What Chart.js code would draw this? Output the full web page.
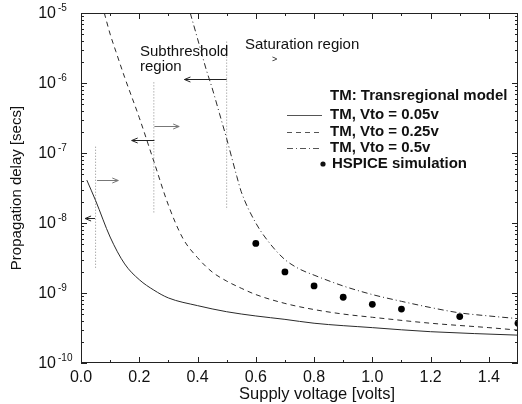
<!DOCTYPE html>
<html>
<head>
<meta charset="utf-8">
<script src="https://cdn.jsdelivr.net/npm/chart.js@4.4.1/dist/chart.umd.min.js"></script>
<style>
    html, body { margin: 0; padding: 0; background: #fff; }
    #wrap { width: 522px; height: 404px; }
</style>
</head>
<body>
<div id="wrap"><canvas id="delayChart" width="522" height="404"></canvas></div>
<script>
// Transregional model, Vto = 0.05v (supply voltage [V] -> delay [s])
const voltsVto005 = [0.02, 0.05, 0.1, 0.15, 0.2, 0.25, 0.3, 0.4, 0.5, 0.6, 0.7, 0.8, 1.0, 1.2, 1.5];
const delayVto005 = [4.1e-8, 2.1e-8, 6.3e-9, 2.6e-9, 1.55e-9, 1.1e-9, 8.5e-10, 6.6e-10, 5.4e-10, 4.7e-10, 4.2e-10, 3.7e-10, 3.2e-10, 2.8e-10, 2.5e-10];

// Transregional model, Vto = 0.25v
const voltsVto025 = [0.08, 0.1, 0.12, 0.15, 0.2, 0.25, 0.3, 0.35, 0.4, 0.45, 0.5, 0.55, 0.6, 0.7, 0.8, 0.9, 1.0, 1.2, 1.4, 1.5];
const delayVto025 = [1e-5, 5.0e-6, 2.8e-6, 1.2e-6, 3.2e-7, 7.6e-8, 1.8e-8, 6.0e-9, 3.2e-9, 2.0e-9, 1.48e-9, 1.17e-9, 9.5e-10, 7.1e-10, 5.8e-10, 5.0e-10, 4.5e-10, 3.7e-10, 3.2e-10, 2.95e-10];

// Transregional model, Vto = 0.5v
const voltsVto05 = [0.375, 0.4, 0.43, 0.45, 0.475, 0.5, 0.535, 0.55, 0.6, 0.65, 0.7, 0.75, 0.8, 0.9, 1.0, 1.1, 1.2, 1.3, 1.4, 1.5];
const delayVto05 = [1e-5, 4.3e-6, 1.55e-6, 8.5e-7, 3.7e-7, 1.6e-7, 4.6e-8, 2.8e-8, 1.0e-8, 5.0e-9, 3.0e-9, 2.2e-9, 1.8e-9, 1.26e-9, 9.5e-10, 7.6e-10, 6.2e-10, 5.2e-10, 4.7e-10, 4.3e-10];

// HSPICE simulation
const voltsHspice = [0.6, 0.7, 0.8, 0.9, 1.0, 1.1, 1.3, 1.5];
const delayHspice = [5.1e-9, 2.0e-9, 1.26e-9, 8.7e-10, 6.9e-10, 5.9e-10, 4.6e-10, 3.7e-10];

// axis ticks
const xTickValues = [0.0, 0.2, 0.4, 0.6, 0.8, 1.0, 1.2, 1.4];
const xTickLabels = ['0.0', '0.2', '0.4', '0.6', '0.8', '1.0', '1.2', '1.4'];
const yDecades = [-10, -9, -8, -7, -6, -5];

// region limits (dotted verticals) and the arrows next to them
const limitVolts = [0.05, 0.25, 0.5];
const limitTop = [1.23e-7, 1.02e-6, 3.9e-6];
const limitBottom = [2.3e-9, 1.38e-8, 1.55e-8];

const arrowFrom = [0.055, 0.048, 0.252, 0.252, 0.5];
const arrowTo = [0.128, 0.014, 0.337, 0.174, 0.355];
const arrowLevel = [4.1e-8, 1.18e-8, 2.45e-7, 1.55e-7, 1.15e-6];

const FONT = '"Liberation Sans", Arial, Helvetica, sans-serif';

function puntos(xs, ys) {
    return xs.map((v, i) => ({ x: v, y: ys[i] }));
};

const curveStyle = {
    type: 'line',
    borderColor: '#2a2a2a',
    borderWidth: 1,
    pointRadius: 0,
    fill: false,
    cubicInterpolationMode: 'monotone'
};

const datasets = [
    { ...curveStyle, label: 'TM, Vto = 0.05v', data: puntos(voltsVto005, delayVto005) },
    { ...curveStyle, label: 'TM, Vto = 0.25v', data: puntos(voltsVto025, delayVto025), borderDash: [5, 4] },
    { ...curveStyle, label: 'TM, Vto = 0.5v', data: puntos(voltsVto05, delayVto05), borderDash: [6, 3, 1, 3] },
    {
        label: 'HSPICE simulation',
        type: 'scatter',
        data: puntos(voltsHspice, delayHspice),
        pointRadius: 3.4,
        pointBackgroundColor: '#000',
        pointBorderWidth: 0,
        showLine: false
    }
];

// dotted region boundaries
limitVolts.forEach((v, i) => {
    datasets.push({
        type: 'line',
        label: 'limit' + i,
        data: [{ x: v, y: limitTop[i] }, { x: v, y: limitBottom[i] }],
        borderColor: '#8a8a8a',
        borderWidth: 1,
        borderDash: [1, 2],
        pointRadius: 0,
        fill: false
    });
});

function flecha(ctx, x1, x2, y, color) {
    const dir = x2 > x1 ? 1 : -1;
    ctx.save();
    ctx.strokeStyle = color;
    ctx.lineWidth = 1;
    ctx.beginPath();
    ctx.moveTo(x1, y);
    ctx.lineTo(x2, y);
    ctx.moveTo(x2 - dir * 6, y - 2.5);
    ctx.lineTo(x2, y);
    ctx.lineTo(x2 - dir * 6, y + 2.5);
    ctx.stroke();
    ctx.restore();
};

const decoPlugin = {
    id: 'deco',
    afterDatasetsDraw(chart) {
        const { ctx, chartArea: a, scales: { x, y } } = chart;
        ctx.save();

        // frame
        ctx.strokeStyle = '#222';
        ctx.lineWidth = 1;
        ctx.strokeRect(a.left + 0.5, a.top + 0.5, a.right - a.left - 1, a.bottom - a.top - 1);

        // inward ticks on x (every 0.1)
        ctx.beginPath();
        for (let k = 1; k <= 14; k++) {
            const px = Math.round(x.getPixelForValue(k / 10)) + 0.5;
            const len = k % 2 === 0 ? 6 : 3;
            ctx.moveTo(px, a.bottom);
            ctx.lineTo(px, a.bottom - len);
            ctx.moveTo(px, a.top);
            ctx.lineTo(px, a.top + len);
        }
        // inward log ticks on y
        for (let e = -10; e <= -6; e++) {
            for (let m = 1; m <= 9; m++) {
                const py = Math.round(y.getPixelForValue(m * Math.pow(10, e))) + 0.5;
                const len = m === 1 ? 6 : 3;
                ctx.moveTo(a.left, py);
                ctx.lineTo(a.left + len, py);
                ctx.moveTo(a.right, py);
                ctx.lineTo(a.right - len, py);
            }
        }
        ctx.stroke();

        // tick labels
        ctx.fillStyle = '#111';
        ctx.font = '16px ' + FONT;
        ctx.textAlign = 'center';
        ctx.textBaseline = 'middle';
        xTickValues.forEach((v, i) => {
            ctx.fillText(xTickLabels[i], x.getPixelForValue(v), 378);
        });
        yDecades.forEach(e => {
            const py = y.getPixelForValue(Math.pow(10, e));
            ctx.font = '16px ' + FONT;
            ctx.textAlign = 'right';
            ctx.fillText('10', 56, py + 1);
            ctx.font = '10px ' + FONT;
            ctx.textAlign = 'left';
            ctx.fillText(String(e), 58, py - 5);
        });

        // axis titles
        ctx.font = '16.5px ' + FONT;
        ctx.textAlign = 'center';
        ctx.fillText('Supply voltage [volts]', 317, 394);
        ctx.font = '15px ' + FONT;
        ctx.save();
        ctx.translate(17, 188);
        ctx.rotate(-Math.PI / 2);
        ctx.fillText('Propagation delay [secs]', 0, 0);
        ctx.restore();

        // region arrows
        arrowFrom.forEach((v, i) => {
            const color = arrowTo[i] > v ? '#777' : '#222';
            flecha(ctx, x.getPixelForValue(v), x.getPixelForValue(arrowTo[i]), Math.round(y.getPixelForValue(arrowLevel[i])) + 0.5, color);
        });

        // region names
        ctx.font = '15px ' + FONT;
        ctx.textAlign = 'left';
        ctx.fillStyle = '#111';
        ctx.fillText('Subthreshold', 140, 52);
        ctx.fillText('region', 140, 67);
        ctx.fillText('Saturation region', 245, 45);
        ctx.font = '9px ' + FONT;
        ctx.fillText('>', 272, 60);

        // legend
        ctx.font = 'bold 15px ' + FONT;
        ctx.fillText('TM: Transregional model', 330, 96);
        const filas = [115, 132, 148];
        [0, 1, 2].forEach(i => {
            const ds = chart.data.datasets[i];
            ctx.save();
            ctx.strokeStyle = '#555';
            ctx.lineWidth = 1;
            ctx.setLineDash(ds.borderDash || []);
            ctx.beginPath();
            ctx.moveTo(287, filas[i] + 0.5);
            ctx.lineTo(322, filas[i] + 0.5);
            ctx.stroke();
            ctx.restore();
            ctx.fillText(ds.label, 330, filas[i]);
        });
        ctx.beginPath();
        ctx.arc(323, 164, 2.6, 0, Math.PI * 2);
        ctx.fill();
        ctx.fillText(chart.data.datasets[3].label, 332, 164);

        ctx.restore();
    }
};

const config = {
    type: 'line',
    data: { datasets: datasets },
    options: {
        responsive: false,
        animation: false,
        devicePixelRatio: 1,
        layout: { padding: { left: 81, top: 13, right: 1, bottom: 41 } },
        plugins: {
            legend: { display: false },
            tooltip: { enabled: false }
        },
        scales: {
            x: {
                type: 'linear',
                min: 0,
                max: 1.5,
                display: false
            },
            y: {
                type: 'logarithmic',
                min: 1e-10,
                max: 1e-5,
                display: false
            }
        }
    },
    plugins: [decoPlugin]
};

new Chart(document.getElementById('delayChart').getContext('2d'), config);
</script>
</body>
</html>
